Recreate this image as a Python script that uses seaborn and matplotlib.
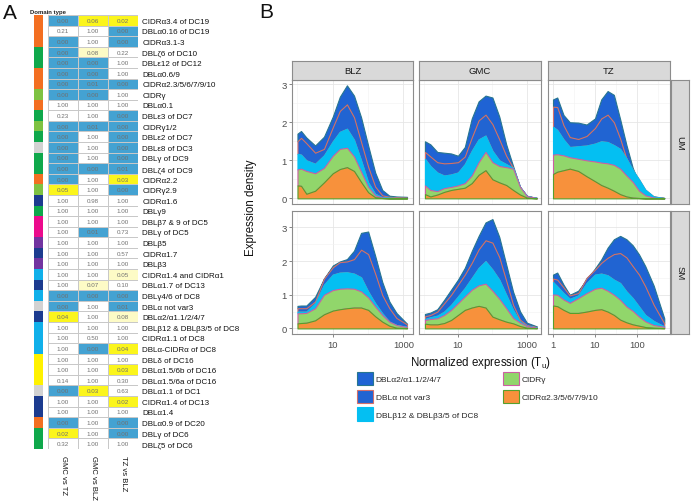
import matplotlib

matplotlib.use("Agg")

import matplotlib.pyplot as plt
import numpy as np
import seaborn as sns
from matplotlib.colors import ListedColormap
from matplotlib.patches import Patch
from matplotlib.ticker import NullFormatter

# ---------------- panel A: pairwise comparison table ----------------
ROW_LABELS = [
    "CIDRα3.4 of DC19", "DBLα0.16 of DC19", "CIDRα3.1-3", "DBLζ6 of DC10",
    "DBLε12 of DC12", "DBLα0.6/9", "CIDRα2.3/5/6/7/9/10", "CIDRγ", "DBLα0.1",
    "DBLε3 of DC7", "CIDRγ1/2", "DBLε2 of DC7", "DBLε8 of DC3", "DBLγ of DC9",
    "DBLζ4 of DC9", "CIDRα2.2", "CIDRγ2.9", "CIDRα1.6", "DBLγ9",
    "DBLβ7 & 9 of DC5", "DBLγ of DC5", "DBLβ5", "CIDRα1.7", "DBLβ3",
    "CIDRα1.4 and CIDRα1", "DBLα1.7 of DC13", "DBLγ4/6 of DC8", "DBLα not var3",
    "DBLα2/α1.1/2/4/7", "DBLβ12 & DBLβ3/5 of DC8", "CIDRα1.1 of DC8",
    "DBLα-CIDRα of DC8", "DBLδ of DC16", "DBLα1.5/6b of DC16",
    "DBLα1.5/6a of DC16", "DBLα1.1 of DC1", "CIDRα1.4 of DC13", "DBLα1.4",
    "DBLα0.9 of DC20", "DBLγ of DC6", "DBLζ5 of DC6",
]
COMPARISONS = ["GMC vs TZ", "GMC vs BLZ", "TZ vs BLZ"]

P_GMC_TZ = [0.00, 0.21, 0.00, 0.00, 0.00, 0.00, 0.00, 0.00, 1.00, 0.23, 0.00,
            0.00, 0.00, 0.00, 0.00, 0.00, 0.05, 1.00, 1.00, 1.00, 1.00, 1.00,
            1.00, 1.00, 1.00, 1.00, 0.00, 0.00, 0.04, 1.00, 1.00, 1.00, 1.00,
            1.00, 0.14, 0.00, 1.00, 1.00, 0.00, 0.02, 0.32]
P_GMC_BLZ = [0.06, 1.00, 1.00, 0.08, 0.00, 0.00, 0.01, 0.00, 1.00, 1.00, 0.01,
             1.00, 1.00, 1.00, 0.00, 1.00, 1.00, 0.98, 1.00, 1.00, 0.01, 1.00,
             1.00, 1.00, 1.00, 0.07, 0.00, 1.00, 1.00, 1.00, 0.50, 0.00, 1.00,
             1.00, 1.00, 0.03, 1.00, 1.00, 1.00, 1.00, 1.00]
P_TZ_BLZ = [0.02, 0.00, 0.00, 0.22, 1.00, 1.00, 0.00, 1.00, 1.00, 0.00, 0.00,
            0.00, 0.00, 0.00, 0.01, 0.03, 0.00, 1.00, 1.00, 1.00, 0.73, 1.00,
            0.57, 1.00, 0.05, 0.10, 0.00, 0.01, 0.08, 1.00, 1.00, 0.04, 1.00,
            0.03, 0.30, 0.63, 0.02, 1.00, 0.00, 0.00, 1.00]

# cell highlight class: 0 none, 1 weak trend, 2 significant, 3 highly significant
SHADE_GMC_TZ = [3, 0, 3, 3, 3, 3, 3, 3, 0, 0, 3, 3, 3, 3, 3, 3, 2, 0, 0, 0, 0,
                0, 0, 0, 0, 0, 3, 3, 2, 0, 0, 0, 0, 0, 0, 3, 0, 0, 3, 2, 0]
SHADE_GMC_BLZ = [2, 0, 0, 1, 3, 3, 3, 3, 0, 0, 3, 0, 0, 0, 3, 0, 0, 0, 0, 0, 3,
                 0, 0, 0, 0, 1, 3, 0, 0, 0, 0, 3, 0, 0, 0, 2, 0, 0, 0, 0, 0]
SHADE_TZ_BLZ = [2, 3, 3, 0, 0, 0, 3, 0, 0, 3, 3, 3, 3, 3, 3, 2, 3, 0, 0, 0, 0,
                0, 0, 0, 1, 0, 3, 3, 1, 0, 0, 2, 0, 2, 0, 0, 2, 0, 3, 3, 0]

# domain type group of each row
DOMAIN_GROUP = [0, 0, 0, 1, 1, 0, 0, 2, 0, 1, 2, 1, 3, 1, 1, 0, 2, 4, 1, 5, 5,
                6, 4, 6, 7, 4, 7, 3, 4, 7, 7, 7, 8, 8, 8, 3, 4, 4, 0, 1, 1]

# ---------------- panel B: stacked expression densities ----------------
# x positions (normalized expression, T_u) per site column
BLZ_X = [1.0, 1.26, 1.78, 3.16, 5.62, 10, 15.8, 25.1, 39.8, 63.1, 100, 158,
         251, 398, 631, 1259]
GMC_X = [1.1, 1.58, 2.51, 3.98, 6.31, 10, 15.8, 25.1, 39.8, 63.1, 100, 158,
         251, 398, 631, 1000, 1950]
TZ_X = [1.0, 1.26, 1.78, 2.51, 3.98, 6.31, 10, 14.1, 20, 28.2, 39.8, 56.2,
        79.4, 112, 158, 251, 447]

# upper edge of each stacked layer (top of stack first)
BLZ_UM_ALPHA2 = [1.70, 1.77, 1.60, 1.39, 1.62, 2.15, 2.67, 2.97, 2.70, 2.13,
                 1.39, 0.68, 0.22, 0.07, 0.05, 0.04]
BLZ_UM_NOTVAR3 = [1.50, 1.59, 1.45, 1.20, 1.30, 1.87, 2.30, 2.47, 2.13, 1.48,
                  0.83, 0.31, 0.08, 0.04, 0.03, 0.02]
BLZ_UM_BETA12 = [1.17, 1.15, 1.00, 0.91, 1.13, 1.50, 1.75, 1.83, 1.54, 1.00,
                 0.42, 0.12, 0.03, 0.02, 0.01, 0.01]
BLZ_UM_CIDRG = [0.76, 0.78, 0.72, 0.66, 0.80, 1.12, 1.30, 1.33, 1.10, 0.70,
                0.30, 0.08, 0.02, 0.01, 0.01, 0.01]
BLZ_UM_CIDRA = [0.34, 0.33, 0.12, 0.20, 0.42, 0.66, 0.77, 0.82, 0.72, 0.43,
                0.16, 0.03, 0.01, 0.00, 0.00, 0.00]

GMC_UM_ALPHA2 = [1.50, 1.42, 1.22, 1.20, 1.18, 1.12, 1.35, 2.10, 2.55, 2.70,
                 2.65, 2.15, 1.42, 0.85, 0.30, 0.07, 0.01]
GMC_UM_NOTVAR3 = [1.22, 1.10, 0.95, 0.92, 0.93, 0.95, 1.10, 1.60, 2.05, 2.20,
                  1.95, 1.55, 1.12, 0.80, 0.30, 0.06, 0.01]
GMC_UM_BETA12 = [1.04, 0.85, 0.68, 0.60, 0.63, 0.68, 0.90, 1.25, 1.55, 1.65,
                 1.25, 1.00, 0.90, 0.80, 0.30, 0.06, 0.01]
GMC_UM_CIDRG = [0.34, 0.22, 0.19, 0.27, 0.30, 0.34, 0.40, 0.60, 0.95, 1.22,
                0.95, 0.85, 0.82, 0.78, 0.30, 0.06, 0.01]
GMC_UM_CIDRA = [0.11, 0.05, 0.10, 0.17, 0.22, 0.25, 0.28, 0.40, 0.62, 0.74,
                0.50, 0.42, 0.35, 0.22, 0.10, 0.02, 0.00]

TZ_UM_ALPHA2 = [2.60, 2.65, 2.19, 2.00, 1.99, 1.94, 2.10, 2.60, 2.82, 2.72,
                2.08, 1.40, 0.80, 0.39, 0.13, 0.05, 0.01]
TZ_UM_NOTVAR3 = [2.41, 2.40, 1.92, 1.61, 1.56, 1.64, 1.85, 2.10, 2.20, 2.00,
                 1.57, 1.04, 0.65, 0.33, 0.14, 0.04, 0.01]
TZ_UM_BETA12 = [1.88, 1.80, 1.55, 1.35, 1.37, 1.39, 1.44, 1.50, 1.48, 1.40,
                1.30, 1.05, 0.75, 0.50, 0.23, 0.05, 0.01]
TZ_UM_CIDRG = [1.15, 1.16, 1.13, 1.08, 1.04, 1.00, 0.97, 0.94, 0.92, 0.88,
               0.78, 0.60, 0.43, 0.20, 0.08, 0.02, 0.00]
TZ_UM_CIDRA = [0.64, 0.70, 0.74, 0.78, 0.72, 0.58, 0.45, 0.35, 0.28, 0.20,
               0.11, 0.05, 0.02, 0.01, 0.00, 0.00, 0.00]

BLZ_SM_ALPHA2 = [0.67, 0.68, 0.68, 0.94, 1.48, 1.87, 1.99, 2.06, 2.31, 2.84,
                 2.88, 2.16, 1.38, 0.80, 0.46, 0.14]
BLZ_SM_NOTVAR3 = [0.60, 0.60, 0.60, 0.80, 1.48, 1.82, 1.97, 1.99, 2.06, 2.34,
                  2.21, 1.63, 0.99, 0.60, 0.31, 0.12]
BLZ_SM_BETA12 = [0.50, 0.50, 0.50, 0.75, 1.30, 1.60, 1.66, 1.67, 1.63, 1.52,
                 1.10, 0.75, 0.45, 0.20, 0.10, 0.05]
BLZ_SM_CIDRG = [0.45, 0.45, 0.46, 0.60, 1.00, 1.14, 1.18, 1.19, 1.18, 1.10,
                0.92, 0.65, 0.40, 0.20, 0.10, 0.04]
BLZ_SM_CIDRA = [0.15, 0.16, 0.17, 0.24, 0.42, 0.53, 0.57, 0.60, 0.62, 0.62,
                0.55, 0.36, 0.20, 0.08, 0.02, 0.01]

GMC_SM_ALPHA2 = [0.43, 0.47, 0.57, 0.85, 1.15, 1.45, 1.80, 2.30, 2.75, 3.15,
                 3.25, 2.72, 1.90, 1.09, 0.51, 0.17, 0.06]
GMC_SM_NOTVAR3 = [0.36, 0.40, 0.50, 0.75, 1.00, 1.30, 1.60, 1.95, 2.35, 2.62,
                  2.55, 2.12, 1.42, 0.70, 0.26, 0.10, 0.04]
GMC_SM_BETA12 = [0.28, 0.33, 0.38, 0.50, 0.70, 0.95, 1.20, 1.50, 1.80, 2.00,
                 1.75, 1.45, 1.00, 0.55, 0.20, 0.08, 0.03]
GMC_SM_CIDRG = [0.25, 0.28, 0.30, 0.40, 0.55, 0.75, 0.95, 1.15, 1.28, 1.33,
                1.12, 0.88, 0.60, 0.31, 0.17, 0.07, 0.02]
GMC_SM_CIDRA = [0.14, 0.12, 0.12, 0.16, 0.25, 0.40, 0.55, 0.62, 0.67, 0.62,
                0.35, 0.27, 0.20, 0.15, 0.07, 0.02, 0.01]

TZ_SM_ALPHA2 = [1.60, 1.66, 1.30, 1.00, 1.12, 1.45, 1.78, 2.05, 2.40, 2.65,
                2.75, 2.65, 2.47, 2.20, 1.85, 1.27, 0.30]
TZ_SM_NOTVAR3 = [1.48, 1.45, 1.22, 0.98, 1.05, 1.50, 1.75, 1.95, 2.10, 2.21,
                 2.24, 2.11, 1.85, 1.60, 1.25, 0.70, 0.15]
TZ_SM_BETA12 = [1.38, 1.25, 1.05, 0.88, 0.98, 1.35, 1.60, 1.63, 1.58, 1.45,
                1.35, 1.10, 0.90, 0.65, 0.40, 0.22, 0.06]
TZ_SM_CIDRG = [1.01, 1.00, 0.86, 0.76, 0.90, 1.05, 1.18, 1.21, 1.12, 1.00,
               0.85, 0.65, 0.52, 0.35, 0.21, 0.10, 0.05]
TZ_SM_CIDRA = [0.68, 0.66, 0.55, 0.46, 0.46, 0.50, 0.55, 0.57, 0.50, 0.40,
               0.26, 0.18, 0.12, 0.08, 0.04, 0.02, 0.01]

SITES = ["BLZ", "GMC", "TZ"]
STATUS = ["UM", "SM"]
LAYER_NAMES = ["DBLα2/α1.1/2/4/7", "DBLα not var3", "DBLβ12 & DBLβ3/5 of DC8",
               "CIDRγ", "CIDRα2.3/5/6/7/9/10"]

# ---------------- styling ----------------
W, H = 696, 502
CELL_COLORS = ["#ffffff", "#fdfbc6", "#fbf51c", "#44a2d2"]
DOMAIN_COLORS = ["#f36f21", "#0fa84b", "#7ec242", "#d2d2d2", "#1c3b8f",
                 "#ec0a8c", "#7233a0", "#10b0ea", "#fff200"]
LAYER_FILL = ["#1f63d4", "#2164d2", "#04bff2", "#91d66b", "#f7913c"]
LAYER_EDGE = ["#27768f", "#d46f6a", "#04bff2", "#cc5fa3", "#56a02c"]

sns.set_theme(style="white")
plt.rcParams["font.family"] = ["Liberation Sans", "DejaVu Sans"]
plt.rcParams["mathtext.default"] = "regular"


def box(x0, y0, x1, y1):
    """Pixel box (origin top-left) -> figure fraction rect."""
    return [x0 / W, 1 - y1 / H, (x1 - x0) / W, (y1 - y0) / H]


def strip(rect, label, rotation=0):
    sax = fig.add_axes(rect)
    sax.set_facecolor("#d9d9d9")
    sax.set_xticks([])
    sax.set_yticks([])
    for sp in sax.spines.values():
        sp.set_color("#8c8c8c")
        sp.set_linewidth(0.8)
    sax.text(0.5, 0.5, label, ha="center", va="center", rotation=rotation,
             fontsize=6.8, color="#1a1a1a", transform=sax.transAxes)


fig = plt.figure(figsize=(W / 100, H / 100), dpi=100)

# ---- panel A ----
fig.text(3 / W, 1 - 19 / H, "A", fontsize=15, color="#111111")
fig.text(30 / W, 1 - 14 / H, "Domain type", fontsize=4.3, fontweight="bold",
         color="#222222")

ax_dom = fig.add_axes(box(34, 16, 43, 450))
sns.heatmap(np.array(DOMAIN_GROUP)[:, None], ax=ax_dom,
            cmap=ListedColormap(DOMAIN_COLORS), vmin=-0.5,
            vmax=len(DOMAIN_COLORS) - 0.5, cbar=False,
            xticklabels=False, yticklabels=False)

ax_tab = fig.add_axes(box(48, 16, 138, 450))
shade = np.array([SHADE_GMC_TZ, SHADE_GMC_BLZ, SHADE_TZ_BLZ]).T
pvals = np.array([P_GMC_TZ, P_GMC_BLZ, P_TZ_BLZ]).T
annot = np.array([[f"{v:.2f}" for v in row] for row in pvals])
sns.heatmap(shade, ax=ax_tab, cmap=ListedColormap(CELL_COLORS), vmin=-0.5,
            vmax=3.5, cbar=False, annot=annot, fmt="",
            annot_kws=dict(fontsize=4.5, color="#707070"),
            linewidths=0.6, linecolor="#c8c8c8",
            xticklabels=COMPARISONS, yticklabels=ROW_LABELS)
ax_tab.yaxis.tick_right()
ax_tab.set_yticklabels(ROW_LABELS, rotation=0, fontsize=5.8, color="#111111")
ax_tab.set_xticklabels(COMPARISONS, rotation=-90, fontsize=5.5,
                       color="#111111", va="top", ha="center")
ax_tab.tick_params(length=0, pad=3)
ax_tab.tick_params(axis="x", pad=4)

# ---- panel B ----
fig.text(259 / W, 1 - 18 / H, "B", fontsize=15, color="#111111")

col_x = {"BLZ": BLZ_X, "GMC": GMC_X, "TZ": TZ_X}
layers = {
    ("BLZ", "UM"): [BLZ_UM_ALPHA2, BLZ_UM_NOTVAR3, BLZ_UM_BETA12, BLZ_UM_CIDRG, BLZ_UM_CIDRA],
    ("GMC", "UM"): [GMC_UM_ALPHA2, GMC_UM_NOTVAR3, GMC_UM_BETA12, GMC_UM_CIDRG, GMC_UM_CIDRA],
    ("TZ", "UM"): [TZ_UM_ALPHA2, TZ_UM_NOTVAR3, TZ_UM_BETA12, TZ_UM_CIDRG, TZ_UM_CIDRA],
    ("BLZ", "SM"): [BLZ_SM_ALPHA2, BLZ_SM_NOTVAR3, BLZ_SM_BETA12, BLZ_SM_CIDRG, BLZ_SM_CIDRA],
    ("GMC", "SM"): [GMC_SM_ALPHA2, GMC_SM_NOTVAR3, GMC_SM_BETA12, GMC_SM_CIDRG, GMC_SM_CIDRA],
    ("TZ", "SM"): [TZ_SM_ALPHA2, TZ_SM_NOTVAR3, TZ_SM_BETA12, TZ_SM_CIDRG, TZ_SM_CIDRA],
}

col_px = {"BLZ": (292, 413), "GMC": (419, 541), "TZ": (548, 670)}
row_px = {"UM": (81, 205), "SM": (212, 335)}
xlims = {"BLZ": (0.70, 1860), "GMC": (0.74, 2570), "TZ": (0.76, 613)}
ylims = {"UM": (-0.148, 3.11), "SM": (-0.166, 3.49)}
xmajor = {"BLZ": [10, 1000], "GMC": [10, 1000], "TZ": [1, 10, 100]}
xminor = {"BLZ": [1, 100], "GMC": [1, 100], "TZ": [3.16, 31.6, 316]}

for status in STATUS:
    for site in SITES:
        x0, x1 = col_px[site]
        y0, y1 = row_px[status]
        ax = fig.add_axes(box(x0, y0, x1, y1))
        ax.set_facecolor("white")
        ax.set_axisbelow(True)
        x = np.array(col_x[site])
        tops = layers[(site, status)]
        # draw top layer first so lower layers' outlines sit on top
        for i, top in enumerate(tops):
            lower = tops[i + 1] if i + 1 < len(tops) else np.zeros_like(x)
            ax.fill_between(x, lower, top, facecolor=LAYER_FILL[i],
                            edgecolor=LAYER_EDGE[i], linewidth=0.8, zorder=2 + i)
        ax.set_xscale("log")
        ax.set_xlim(*xlims[site])
        ax.set_ylim(*ylims[status])
        ax.set_xticks(xmajor[site])
        ax.set_xticks(xminor[site], minor=True)
        ax.set_xticklabels([f"{t:g}" for t in xmajor[site]])
        ax.xaxis.set_minor_formatter(NullFormatter())
        ax.set_yticks([0, 1, 2, 3])
        ax.set_yticks([0.5, 1.5, 2.5], minor=True)
        ax.grid(True, which="major", color="#e6e6e6", linewidth=0.6)
        ax.grid(True, which="minor", color="#f2f2f2", linewidth=0.4)
        ax.tick_params(which="major", length=2.5, width=0.5, color="#555555",
                       labelsize=6.8, labelcolor="#4d4d4d", pad=1.5)
        ax.tick_params(which="minor", length=0)
        ax.tick_params(axis="x", bottom=(status == "SM"), labelbottom=(status == "SM"))
        ax.tick_params(axis="y", left=(site == "BLZ"), labelleft=(site == "BLZ"))
        for sp in ax.spines.values():
            sp.set_color("#8c8c8c")
            sp.set_linewidth(0.8)

        if status == "UM":
            strip(box(x0, 62, x1, 81), site)

    strip(box(671, row_px[status][0], 689, row_px[status][1]), status, rotation=-90)

fig.text(251 / W, 1 - 208 / H, "Expression density", rotation=90,
         ha="center", va="center", fontsize=8.3, color="#111111")
fig.text(481 / W, 1 - 363 / H, "Normalized expression (T$_u$)",
         ha="center", va="center", fontsize=8.3, color="#111111")

handles = [Patch(facecolor=LAYER_FILL[i], edgecolor=LAYER_EDGE[i], linewidth=0.8)
           for i in range(len(LAYER_NAMES))]
fig.legend(handles, LAYER_NAMES, loc="upper left",
           bbox_to_anchor=(357 / W, 1 - 373 / H), ncol=2, frameon=False,
           fontsize=6.0, handlelength=1.9, handleheight=2.1, handletextpad=0.35,
           labelspacing=0.5, columnspacing=3.0, borderpad=0, borderaxespad=0)

fig.savefig("out.png", dpi=100)
